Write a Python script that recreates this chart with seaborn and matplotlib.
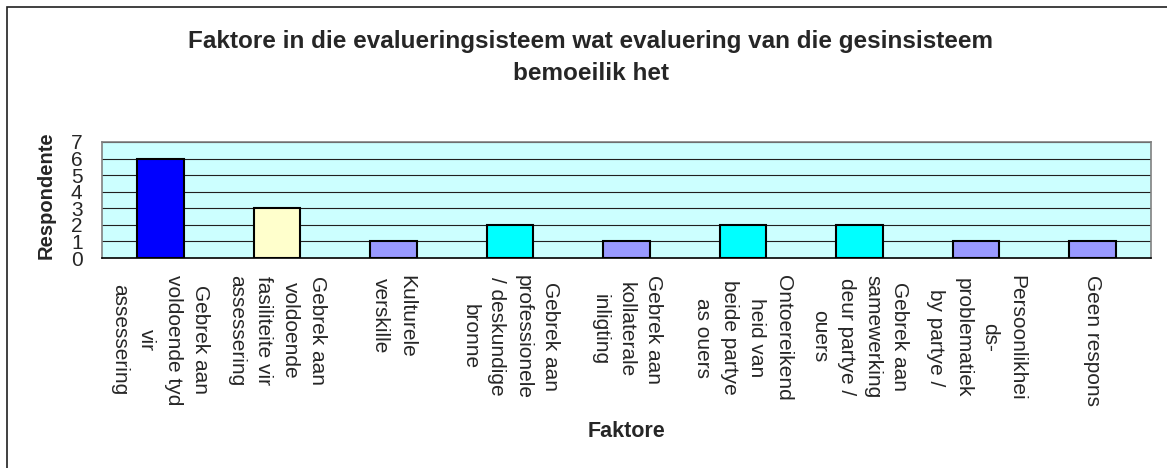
import matplotlib
matplotlib.use("Agg")
import matplotlib.pyplot as plt
from matplotlib.patches import Rectangle
import seaborn as sns

# data
factors = [
    "Gebrek aan\nvoldoende tyd\nvir\nassessering",
    "Gebrek aan\nvoldoende\nfasiliteite vir\nassessering",
    "Kulturele\nverskille",
    "Gebrek aan\nprofessionele\n/ deskundige\nbronne",
    "Gebrek aan\nkollaterale\ninligting",
    "Ontoereikend\nheid van\nbeide partye\nas ouers",
    "Gebrek aan\nsamewerking\ndeur partye /\nouers",
    "Persoonlikhei\nds-\nproblematiek\nby partye /",
    "Geen respons",
]
respondents = [6, 3, 1, 2, 1, 2, 2, 1, 1]
bar_colors = ["#0000FF", "#FFFFCC", "#9999FF", "#00FFFF", "#9999FF",
              "#00FFFF", "#00FFFF", "#9999FF", "#9999FF"]
yticks = [0, 1, 2, 3, 4, 5, 6, 7]

sns.set_style("white")
plt.rcParams['font.family'] = ['Liberation Sans', 'DejaVu Sans']

fig = plt.figure(figsize=(11.67, 4.68), dpi=100)
ax = fig.add_axes([0.0874, 0.4487, 0.8989, 0.2479])
ax.set_facecolor("#CCFFFF")

sns.barplot(x=factors, y=respondents, hue=factors, palette=bar_colors,
            legend=False, width=0.4, edgecolor="black", linewidth=1.5,
            saturation=1, ax=ax, zorder=3)

ax.set_ylim(0, 7)
ax.set_xlim(-0.5, len(factors) - 0.5)
ax.set_yticks(yticks)
ax.set_yticklabels([str(t) for t in yticks], fontsize=15)
ax.tick_params(axis='y', length=5, width=1, color='black', pad=9)
for t in yticks[1:]:
    ax.axhline(t, color='#202020', lw=0.8, zorder=1)

# ticks between categories, labels at centres
ax.set_xticks([i - 0.5 for i in range(len(factors) + 1)])
ax.set_xticklabels([])
ax.tick_params(axis='x', which='major', length=5, width=1, color='#404040')
ax.set_xticks(range(len(factors)), minor=True)
ax.set_xticklabels(factors, minor=True, rotation=-90, ha='center', va='top',
                   multialignment='center', fontsize=15, linespacing=1.52)
ax.tick_params(axis='x', which='minor', length=0, pad=12)

for side in ['top', 'right', 'left']:
    ax.spines[side].set_color('#808080')
    ax.spines[side].set_linewidth(1.2)
ax.spines['bottom'].set_color('black')
ax.spines['bottom'].set_linewidth(1.2)

ax.set_xlabel("")
ax.set_ylabel("Respondente", fontsize=14.5, fontweight='bold')
ax.yaxis.set_label_coords(-0.0446, 0.54)

fig.text(0.506, 0.877, "Faktore in die evalueringsisteem wat evaluering van die gesinsisteem\nbemoeilik het",
         ha='center', va='center', fontsize=17.5, fontweight='bold', linespacing=1.5)
fig.text(0.537, 0.079, "Faktore", ha='center', va='center', fontsize=15.5, fontweight='bold')

fig.patches.append(Rectangle((0.006, -0.1), 1.2, 1.086, transform=fig.transFigure,
                             fill=False, edgecolor='#202020', lw=1.2))

fig.savefig("out.png", dpi=100)
